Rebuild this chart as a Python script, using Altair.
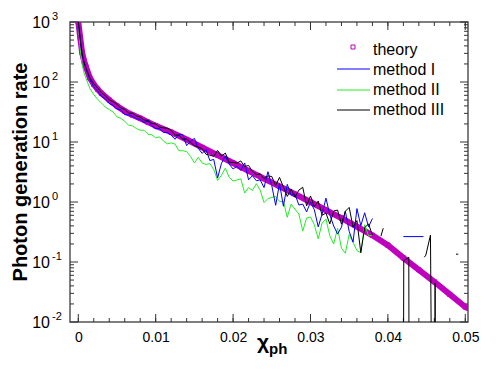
import altair as alt
import pandas as pd

FONT = "Liberation Sans"

# ---------------- data ----------------
theory_x = [0, 0.00025, 0.0005, 0.00075, 0.001, 0.0015, 0.002, 0.0025, 0.003, 0.004,
            0.005, 0.006, 0.007, 0.008, 0.009, 0.010, 0.012, 0.014, 0.016, 0.018,
            0.020, 0.022, 0.024, 0.026, 0.028, 0.030, 0.032, 0.034, 0.036, 0.038,
            0.040, 0.042, 0.044, 0.046, 0.048, 0.050, 0.0504]
theory_y = [1000, 550, 309, 224, 178, 117, 91.2, 75.9, 64.6, 50.1,
            39.8, 32.7, 28.2, 24.8, 21.4, 18.6, 14.6, 11.0, 8.13, 6.03,
            4.47, 3.31, 2.45, 1.82, 1.35, 1.0, 0.733, 0.537, 0.389, 0.279,
            0.191, 0.117, 0.0741, 0.0468, 0.0288, 0.0178, 0.0170]

method_x = [0, 0.00025, 0.0005, 0.00075, 0.001, 0.0015, 0.002, 0.0025, 0.003, 0.0035,
            0.004, 0.0045, 0.005, 0.0055, 0.006, 0.0065, 0.007, 0.0075,
            0.008, 0.0085, 0.009, 0.0095, 0.010, 0.0105, 0.011, 0.0115, 0.012, 0.0125,
            0.013, 0.0135, 0.014, 0.0145, 0.015, 0.0155, 0.016, 0.0165, 0.017, 0.0175,
            0.018, 0.0185, 0.019, 0.0195, 0.020, 0.0205, 0.021, 0.0215, 0.022, 0.0225,
            0.023, 0.0235, 0.024, 0.0245, 0.025, 0.0255, 0.026, 0.0265, 0.027, 0.0275,
            0.028, 0.0285, 0.029, 0.0295, 0.030, 0.0305, 0.031, 0.0315, 0.032, 0.0325,
            0.033, 0.0335, 0.034, 0.0345, 0.035, 0.0355, 0.036, 0.0365, 0.037, 0.0375,
            0.038]

method1_y = [1000, 513, 282, 209, 166, 110, 83.2, 70.8, 57.5, 52.5,
             43.7, 40.7, 35.5, 34.3, 28.5, 28.2, 26.9, 24.5,
             23.7, 21.1, 22.4, 18.6, 16.6, 16.8, 14.3, 14.5, 13.0, 11.1,
             13.3, 13.3, 8.71, 10.2, 11.5, 7.85, 6.46, 7.50, 4.90, 5.13,
             2.51, 4.42, 5.82, 4.27, 3.55, 3.95, 3.35, 4.47, 2.34, 2.75,
             2.26, 2.34, 1.74, 3.20, 1.88, 0.881, 2.04, 0.851, 1.97, 1.30,
             1.35, 0.891, 0.923, 0.684, 1.0, 0.741, 0.385, 0.631, 1.16, 0.610,
             0.398, 0.292, 0.380, 0.700, 0.324, 0.214, 0.776, 0.403, 0.661, 0.385,
             0.531]

method2_y = [1000, 350, 195, 141, 115, 77.6, 61.7, 51.3, 44.7, 38.0,
             34.7, 31.6, 26.3, 24.8, 22.1, 19.1, 18.6, 16.8,
             15.7, 15.7, 13.5, 13.2, 11.7, 12.2, 10.4, 9.33, 9.66, 9.23,
             7.16, 7.16, 6.92, 5.75, 4.47, 5.56, 4.47, 4.22, 4.37, 3.47,
             2.29, 2.79, 3.67, 2.57, 2.24, 2.33, 2.43, 1.41, 1.74, 1.55,
             2.02, 1.58, 0.977, 1.14, 1.19, 1.24, 1.02, 1.02, 0.556, 0.923,
             0.759, 0.631, 0.327, 0.543, 0.562, 0.417, 0.243, 0.447, 0.519, 0.272,
             0.200, 0.367, 0.170, 0.140, 0.288, 0.214, 0.155, 0.143, 0.417, 0.272,
             0.279]

method3_y = [1000, 525, 288, 214, 170, 117, 93.3, 79.4, 66.1, 58.9,
             50.1, 46.8, 42.7, 36.7, 35.1, 30.2, 30.2, 27.2,
             26.0, 23.2, 22.9, 20.4, 20.0, 17.6, 17.2, 17.0, 15.7, 13.0,
             13.0, 11.1, 11.2, 9.77, 8.71, 8.22, 7.76, 6.24, 6.03, 5.75,
             7.24, 5.82, 6.53, 4.57, 4.57, 4.44, 4.84, 3.89, 4.07, 3.24,
             2.85, 2.95, 2.45, 2.72, 2.66, 1.88, 2.57, 1.78, 1.24, 1.64,
             1.20, 1.58, 1.76, 0.861, 1.26, 0.832, 1.04, 0.603, 0.653, 0.432,
             0.708, 0.733, 0.427, 0.700, 0.813, 0.380, 0.490, 0.143, 0.372, 0.432,
             0.279]

# isolated pieces at large chi (gaps = zero counts)
method1_tail_x = [[0.0420, 0.0446]]
method1_tail_y = [[0.265, 0.265]]
method3_tail_x = [[0.0391, 0.0394],
                  [0.0420, 0.04205, 0.0427, 0.04275],
                  [0.0447, 0.0449, 0.0455, 0.0457, 0.04605, 0.0461, 0.04615],
                  [0.0488, 0.0491]]
method3_tail_y = [[0.27, 0.365],
                  [0.0001, 0.105, 0.12, 0.0001],
                  [0.12, 0.13, 0.28, 0.0001, 0.0001, 0.045, 0.0001],
                  [0.135, 0.135]]

x_labels = [0, 0.01, 0.02, 0.03, 0.04, 0.05]
x_minor = [i * 0.002 for i in range(26)]
y_major = [1000, 100, 10, 1, 0.1, 0.01]
y_exp = ["3", "2", "1", "0", "-1", "-2"]
y_minor = [m * 10.0 ** k for k in range(-2, 3) for m in range(2, 10)]

legend_labels = ["theory", "method I", "method II", "method III"]
C_THEORY = "#bf00bf"
C_M1 = "#0000ff"
C_M2 = "#22ee22"
C_M3 = "#000000"

# ---------------- chart ----------------
W, H = 398, 300
xscale = alt.Scale(domain=[-0.00107, 0.05035], nice=False, zero=False)
yscale = alt.Scale(type="log", domain=[0.01, 1000], nice=False)
xaxis = alt.Axis(values=x_labels, labelExpr="datum.value == 0 ? '0' : format(datum.value, '.2f')",
                 ticks=False, domain=False, grid=False, title=None, labelFont=FONT,
                 labelFontSize=14, labelColor="black", labelPadding=8)
X = alt.X("x:Q", scale=xscale, axis=xaxis)
Y = alt.Y("y:Q", scale=yscale, axis=None)


def series_df(xs_list, ys_list):
    rows = []
    for s, (xs, ys) in enumerate(zip(xs_list, ys_list)):
        for a, b in zip(xs, ys):
            rows.append({"x": a, "y": b, "seg": s})
    return pd.DataFrame(rows)


layers = []

# ticks (inward, all four sides)
tx_minor = pd.DataFrame({"x": x_minor})
tx_major = pd.DataFrame({"x": x_labels})
for df, ln in [(tx_minor, 4), (tx_major, 8)]:
    base = alt.Chart(df).mark_rule(color="#333333", strokeWidth=1)
    layers.append(base.encode(x=X, y=alt.value(H), y2=alt.value(H - ln)))
    layers.append(base.encode(x=X, y=alt.value(0), y2=alt.value(ln)))
ty_minor = pd.DataFrame({"y": y_minor})
ty_major = pd.DataFrame({"y": y_major})
for df, ln in [(ty_minor, 4), (ty_major, 8)]:
    base = alt.Chart(df).mark_rule(color="#333333", strokeWidth=1)
    layers.append(base.encode(y=Y, x=alt.value(0), x2=alt.value(ln)))
    layers.append(base.encode(y=Y, x=alt.value(W), x2=alt.value(W - ln)))

# theory: dense square markers forming a thick band
th = pd.DataFrame({"x": theory_x, "y": theory_y})
layers.append(alt.Chart(th).mark_line(color=C_THEORY, strokeWidth=6, clip=True).encode(x=X, y=Y))
layers.append(alt.Chart(th).mark_point(shape="square", filled=False, color=C_THEORY, size=18,
                                       strokeWidth=1, opacity=1, clip=True).encode(x=X, y=Y))

# methods
m2 = series_df([method_x], [method2_y])
m1 = series_df([method_x] + method1_tail_x, [method1_y] + method1_tail_y)
m3 = series_df([method_x] + method3_tail_x, [method3_y] + method3_tail_y)
for df, col in [(m2, C_M2), (m1, C_M1), (m3, C_M3)]:
    layers.append(alt.Chart(df).mark_line(color=col, strokeWidth=1, clip=True)
                  .encode(x=X, y=Y, detail="seg:N"))

# y tick labels 10^n
ylab = pd.DataFrame({"y": y_major, "e": y_exp, "b": ["10"] * 6})
layers.append(alt.Chart(ylab).mark_text(font=FONT, fontSize=16, align="right", baseline="alphabetic",
                                        dy=6, color="black")
              .encode(y=Y, x=alt.value(-20), text="b:N"))
layers.append(alt.Chart(ylab).mark_text(font=FONT, fontSize=11, align="left", baseline="alphabetic",
                                        dy=-2, color="black")
              .encode(y=Y, x=alt.value(-18), text="e:N"))

one = pd.DataFrame({"a": [0]})
# axis titles
layers.append(alt.Chart(one).mark_text(font=FONT, fontSize=20, fontWeight="bold", angle=270,
                                       align="center", baseline="middle", color="black")
              .encode(x=alt.value(-49), y=alt.value(150), text=alt.value("Photon generation rate")))
layers.append(alt.Chart(one).mark_text(font=FONT, fontSize=21, fontWeight="bold", align="right",
                                       baseline="alphabetic", color="black")
              .encode(x=alt.value(199), y=alt.value(327), text=alt.value("χ")))
layers.append(alt.Chart(one).mark_text(font=FONT, fontSize=15, fontWeight="bold", align="left",
                                       baseline="alphabetic", color="black")
              .encode(x=alt.value(199), y=alt.value(332), text=alt.value("ph")))

# legend
leg_text_y = [33, 53, 73, 93]
leg_line_y = [47, 68, 88]
for lab, ty in zip(legend_labels, leg_text_y):
    layers.append(alt.Chart(one).mark_text(font=FONT, fontSize=16, align="left", baseline="alphabetic",
                                           color="black")
                  .encode(x=alt.value(303), y=alt.value(ty), text=alt.value(lab)))
layers.append(alt.Chart(one).mark_point(shape="square", filled=False, color=C_THEORY, size=16,
                                        strokeWidth=1, opacity=1)
              .encode(x=alt.value(283), y=alt.value(25)))
for col, ly in zip([C_M1, C_M2, C_M3], leg_line_y):
    layers.append(alt.Chart(one).mark_rule(color=col, strokeWidth=1)
                  .encode(x=alt.value(267), x2=alt.value(300), y=alt.value(ly)))

chart = alt.layer(*layers).properties(
    width=W, height=H,
    autosize=alt.AutoSizeParams(type="none"),
    padding={"left": 62, "top": 14, "right": 20, "bottom": 40},
    background="white",
).configure_view(stroke="#555555", strokeWidth=1.5)

chart.save("out.html", embed_options={"renderer": "svg", "actions": False})
